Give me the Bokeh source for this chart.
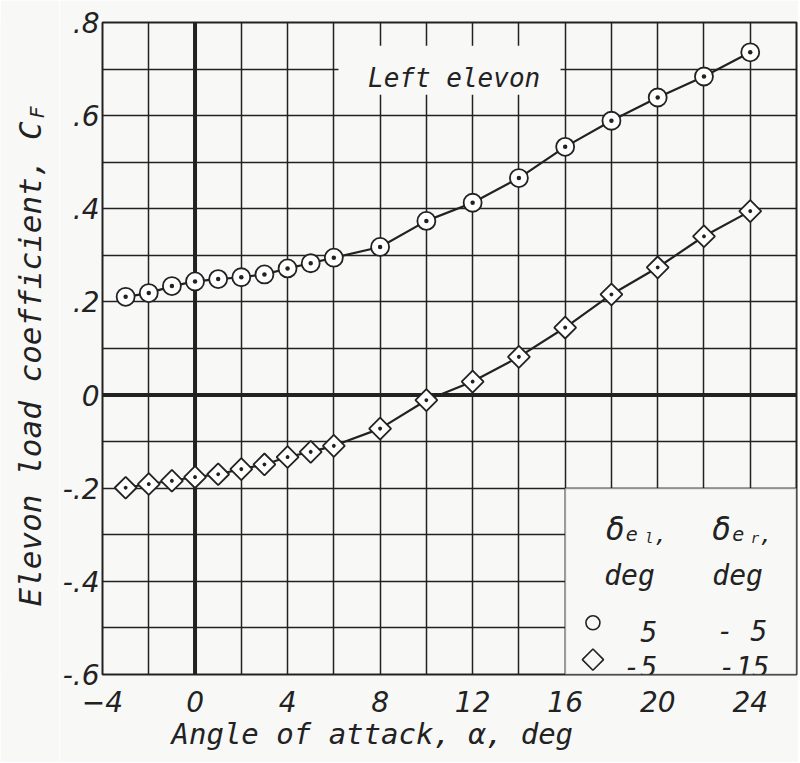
from math import pi
from bokeh.plotting import figure
from bokeh.layouts import row
from bokeh.models import Range1d, FixedTicker, Span, BoxAnnotation, Label, Title
from bokeh.core.properties import value
from bokeh.embed import file_html
from bokeh.resources import INLINE

# ---- data ----
alpha = [-3, -2, -1, 0, 1, 2, 3, 4, 5, 6, 8, 10, 12, 14, 16, 18, 20, 22, 24]
cf_del_l_5 = [0.211, 0.219, 0.234, 0.244, 0.249, 0.253, 0.259, 0.272, 0.283, 0.295,
              0.318, 0.374, 0.413, 0.466, 0.533, 0.589, 0.639, 0.684, 0.736]
cf_del_l_m5 = [-0.199, -0.191, -0.184, -0.176, -0.170, -0.159, -0.149, -0.133, -0.122, -0.109,
               -0.072, -0.011, 0.029, 0.082, 0.145, 0.216, 0.274, 0.341, 0.395]

x_ticks = [-4, 0, 4, 8, 12, 16, 20, 24]
y_ticks = [-0.6, -0.4, -0.2, 0.0, 0.2, 0.4, 0.6, 0.8]
y_tick_labels = ["-.6", "-.4", "-.2", "0", ".2", ".4", ".6", ".8"]
x_grid = [-4, -2, 0, 2, 4, 6, 8, 10, 12, 14, 16, 18, 20, 22, 24, 26]
y_grid = [-0.6, -0.5, -0.4, -0.3, -0.2, -0.1, 0.0, 0.1, 0.2, 0.3, 0.4, 0.5, 0.6, 0.7, 0.8]
legend_del_l = ["5", "-5"]
legend_del_r = ["- 5", "-15"]
x_title = "Angle of attack, \u03b1, deg"
y_title = "Elevon load coefficient, C"
y_title_sub = "F"
note = "Left elevon"

BG = "#f8f8f7"
INK = "#222222"
FONT = "DejaVu Sans Mono"
TICKFONT = "DejaVu Sans"

TOP, FH, BOT = 22, 652, 88
LEFT_T = 59          # width of the y-title strip
LEFT_M = 42          # tick-label border of main plot

p = figure(frame_width=694, frame_height=FH,
           x_range=Range1d(-4, 26), y_range=Range1d(-0.6, 0.8),
           output_backend="svg", toolbar_location=None,
           min_border_left=LEFT_M, min_border_right=2, min_border_top=TOP,
           min_border_bottom=BOT,
           background_fill_color=BG, border_fill_color=BG,
           outline_line_color=INK, outline_line_width=2)

# grid
p.xgrid.ticker = FixedTicker(ticks=x_grid)
p.ygrid.ticker = FixedTicker(ticks=y_grid)
for g in (p.xgrid, p.ygrid):
    g.grid_line_color = INK
    g.grid_line_width = 1.5
    g.grid_line_alpha = 1.0

# axes
p.xaxis.ticker = FixedTicker(ticks=x_ticks)
p.yaxis.ticker = FixedTicker(ticks=y_ticks)
p.yaxis.major_label_overrides = {t: s for t, s in zip(y_ticks, y_tick_labels)}
for ax in (p.xaxis, p.yaxis):
    ax.axis_line_color = None
    ax.major_tick_line_color = None
    ax.minor_tick_line_color = None
    ax.major_tick_out = 0
    ax.major_tick_in = 0
    ax.major_label_text_font = TICKFONT
    ax.major_label_text_font_style = "italic"
    ax.major_label_text_font_size = "28px"
    ax.major_label_text_color = INK
p.xaxis.major_label_standoff = 16
p.yaxis.major_label_standoff = 3

# x-axis title
p.add_layout(Title(text=x_title, align="left", offset=69, standoff=0,
                   text_font=FONT, text_font_style="italic", text_font_size="29px",
                   text_color=INK), "below")

# heavy zero lines
p.add_layout(Span(location=0, dimension="height", line_color=INK, line_width=4, level="underlay"))
p.add_layout(Span(location=0, dimension="width", line_color=INK, line_width=4, level="underlay"))

# blank areas for the note and the key
p.add_layout(BoxAnnotation(left=6.2, right=15.8, bottom=0.645, top=0.75,
                           fill_color=BG, fill_alpha=1, line_color=None, level="underlay"))
p.add_layout(BoxAnnotation(left=16, right=26, bottom=-0.6, top=-0.2,
                           fill_color=BG, fill_alpha=1, line_color=INK, line_width=2,
                           level="underlay"))

# curves
p.line(alpha, cf_del_l_5, line_color=INK, line_width=2.2)
p.line(alpha, cf_del_l_m5, line_color=INK, line_width=2.2)
p.scatter(alpha, cf_del_l_5, marker="circle_dot", size=18, fill_color="white",
          line_color=INK, line_width=1.8)
p.scatter(alpha, cf_del_l_m5, marker="square_dot", angle=pi / 4, size=15.5,
          fill_color="white", line_color=INK, line_width=1.8)

# key markers
p.scatter([17.2], [-0.489], marker="circle", size=14, fill_color=BG,
          line_color=INK, line_width=1.6)
p.scatter([17.2], [-0.568], marker="square", angle=pi / 4, size=15,
          fill_color=BG, line_color=INK, line_width=1.6)


def lab(text, x, y, size, align="left", baseline="alphabetic", angle=0.0):
    p.add_layout(Label(x=x, y=y, text=text, text_font=FONT, text_font_style="italic",
                       text_font_size=size, text_color=INK, text_align=align,
                       text_baseline=baseline, angle=angle))


# note
lab(note, 11.2, 0.68, "26px", align="center")

# key headers
lab("\u03b4", 17.75, -0.288, "32px")
lab("e", 18.62, -0.298, "20px")
lab("l", 19.45, -0.307, "14px")
lab(",", 19.85, -0.298, "22px")
lab("\u03b4", 22.35, -0.288, "32px")
lab("e", 23.22, -0.298, "20px")
lab("r", 24.02, -0.307, "14px")
lab(",", 24.40, -0.298, "22px")
lab("deg", 17.69, -0.388, "28px")
lab("deg", 22.36, -0.388, "28px")
lab(legend_del_l[0], 19.98, -0.508, "28px", align="right")
lab(legend_del_r[0], 24.74, -0.508, "28px", align="right")
lab(legend_del_l[1], 19.98, -0.583, "28px", align="right")
lab(legend_del_r[1], 24.83, -0.583, "28px", align="right")

# ---- y-title strip (same vertical mapping as main plot) ----
t = figure(frame_width=LEFT_T, frame_height=FH,
           x_range=Range1d(0, LEFT_T), y_range=Range1d(-0.6, 0.8),
           output_backend="svg", toolbar_location=None,
           x_axis_location=None, y_axis_location=None,
           min_border_left=0, min_border_right=0, min_border_top=TOP,
           min_border_bottom=BOT,
           background_fill_color=BG, border_fill_color=BG, outline_line_color=None)
t.grid.visible = False
t.text(x=[29], y=[0.067], text=[y_title], angle=pi / 2, text_align="center",
       text_baseline="alphabetic", text_font=value(FONT), text_font_style="italic",
       text_font_size="31px", text_color=INK)
t.text(x=[36], y=[0.594], text=[y_title_sub], angle=pi / 2, text_align="left",
       text_baseline="alphabetic", text_font=value(FONT), text_font_style="italic",
       text_font_size="20px", text_color=INK)

layout = row(t, p)
open("out.html", "w").write(file_html(layout, INLINE))
